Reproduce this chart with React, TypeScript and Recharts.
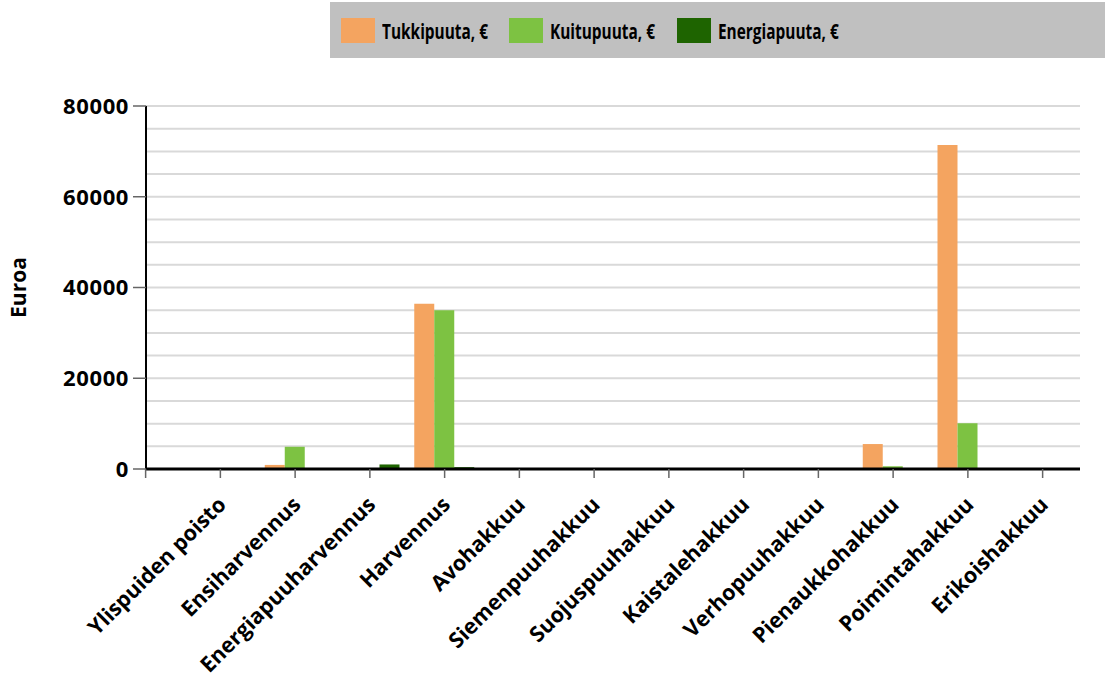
import React from 'react';
import { BarChart, Bar, XAxis, YAxis, CartesianGrid, Legend } from 'recharts';

const categories = [
  'Ylispuiden poisto', 'Ensiharvennus', 'Energiapuuharvennus', 'Harvennus', 'Avohakkuu',
  'Siemenpuuhakkuu', 'Suojuspuuhakkuu', 'Kaistalehakkuu', 'Verhopuuhakkuu', 'Pienaukkohakkuu',
  'Poimintahakkuu', 'Erikoishakkuu',
];
const tukkipuuta = [0, 900, 0, 36400, 0, 0, 0, 0, 0, 5500, 71400, 0];
const kuitupuuta = [0, 4900, 0, 35000, 0, 0, 0, 0, 0, 600, 10100, 0];
const energiapuuta = [0, 0, 1000, 400, 0, 0, 0, 0, 0, 0, 0, 0];
const yTicks = [0, 20000, 40000, 60000, 80000];
const gridValues = [0, 5000, 10000, 15000, 20000, 25000, 30000, 35000, 40000, 45000, 50000, 55000, 60000, 65000, 70000, 75000, 80000];

const seriesNames = ['Tukkipuuta, €', 'Kuitupuuta, €', 'Energiapuuta, €'];
const seriesKeys = ['tukki', 'kuitu', 'energia'];
const colors = ['#F4A460', '#7DC242', '#1E6400'];

const data = categories.map((c, i) => ({
  name: c,
  tukki: tukkipuuta[i],
  kuitu: kuitupuuta[i],
  energia: energiapuuta[i],
}));

const FONT = '"Open Sans", sans-serif';
const W = 1105;
const H = 677;
const PLOT_TOP = 106;
const PLOT_BOTTOM = 469;
const Y_AXIS_W = 146;
const RIGHT = 25;
const PAD_LEFT = 37;
const BAND = (W - Y_AXIS_W - RIGHT - PAD_LEFT) / categories.length;

const XTick = (props: any) => {
  const { x, y, payload, index } = props;
  return (
    <g>
      {index === 0 && (
        <line x1={x - BAND} x2={x - BAND} y1={PLOT_BOTTOM} y2={PLOT_BOTTOM + 9} stroke="#666" strokeWidth={1.5} />
      )}
      <text
        transform={`translate(${x + 7},${y + 26}) rotate(-45)`}
        textAnchor="end"
        fontFamily={FONT}
        fontWeight={700}
        fontSize={21.5}
        fill="#000"
      >
        {payload.value}
      </text>
    </g>
  );
};

const LegendContent = () => (
  <div
    style={{
      background: '#C0C0C0',
      height: 56,
      display: 'flex',
      alignItems: 'center',
      paddingLeft: 11,
      boxSizing: 'border-box',
      fontFamily: FONT,
      fontWeight: 700,
      fontSize: 22,
      color: '#000',
    }}
  >
    {seriesNames.map((n, i) => (
      <div key={n} style={{ display: 'flex', alignItems: 'center', width: 168, flex: 'none' }}>
        <div style={{ width: 34, height: 25, background: colors[i], marginRight: 7, flex: 'none' }} />
        <span
          style={{
            display: 'inline-block',
            whiteSpace: 'nowrap',
            transform: 'scaleX(0.7)',
            transformOrigin: 'left center',
          }}
        >
          {n}
        </span>
      </div>
    ))}
  </div>
);

export default function App() {
  return (
    <div style={{ position: 'relative', width: W, height: H }}>
      <style>{'body{margin:0}'}</style>
      <BarChart
        width={W}
        height={H}
        data={data}
        margin={{ top: PLOT_TOP, right: RIGHT, bottom: 0, left: 0 }}
        barGap={0}
        barSize={20}
      >
        <CartesianGrid
          vertical={false}
          horizontalValues={gridValues}
          stroke="#D9D9D9"
          strokeWidth={2}
        />
        <XAxis
          dataKey="name"
          interval={0}
          padding={{ left: PAD_LEFT, right: 0 }}
          axisLine={{ stroke: '#000', strokeWidth: 3 }}
          tickLine={{ stroke: '#666', strokeWidth: 1.5 }}
          tickSize={9}
          tick={<XTick />}
          height={H - PLOT_BOTTOM}
        />
        <YAxis
          width={Y_AXIS_W}
          domain={[0, 80000]}
          ticks={yTicks}
          interval={0}
          axisLine={{ stroke: '#000', strokeWidth: 2 }}
          tickLine={{ stroke: '#666', strokeWidth: 1.5 }}
          tickSize={13}
          tickMargin={4}
          tick={{ fontFamily: FONT, fontWeight: 700, fontSize: 22, fill: '#000', letterSpacing: 0.6 }}
          label={{
            value: 'Euroa',
            angle: -90,
            position: 'insideLeft',
            dx: 14,
            dy: 0,
            style: { fontFamily: FONT, fontWeight: 700, fontSize: 21, fill: '#000', textAnchor: 'middle' },
          }}
        />
        {seriesKeys.map((k, i) => (
          <Bar key={k} dataKey={k} name={seriesNames[i]} fill={colors[i]} isAnimationActive={false} />
        ))}
        <Legend
          layout="horizontal"
          verticalAlign="middle"
          align="center"
          content={<LegendContent />}
          wrapperStyle={{ position: 'absolute', top: 2, left: 330, width: 775, height: 56 }}
        />
      </BarChart>
    </div>
  );
}
